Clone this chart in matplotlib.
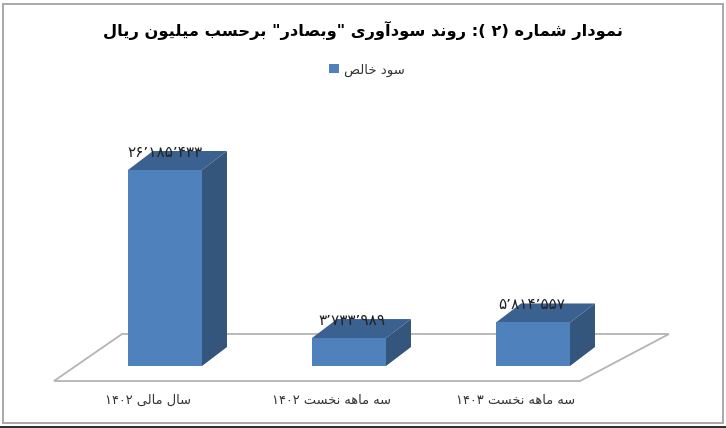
import matplotlib
matplotlib.use("Agg")
import matplotlib.pyplot as plt
from matplotlib.patches import Polygon, Rectangle
from matplotlib.transforms import Affine2D, ScaledTranslation

title_text = 'نمودار شماره (۲ ): روند سودآوری "وبصادر" برحسب میلیون ریال'
series_name = 'سود خالص'
categories = ['سال مالی ۱۴۰۲', 'سه ماهه نخست ۱۴۰۲', 'سه ماهه نخست ۱۴۰۳']
values = [26185433, 3733989, 5814557]
value_labels = ['۲۶٬۱۸۵٬۴۳۳', '۳٬۷۳۳٬۹۸۹', '۵٬۸۱۴٬۵۵۷']

# Matplotlib has no Arabic shaping: map letters to contextual forms
FORMS = {  # isolated, final, initial, medial
    'ا': '\uFE8D\uFE8E', 'آ': '\uFE81\uFE82', 'د': '\uFEA9\uFEAA', 'ر': '\uFEAD\uFEAE', 'و': '\uFEED\uFEEE',
    'ن': '\uFEE5\uFEE6\uFEE7\uFEE8', 'م': '\uFEE1\uFEE2\uFEE3\uFEE4', 'ش': '\uFEB5\uFEB6\uFEB7\uFEB8',
    'ه': '\uFEE9\uFEEA\uFEEB\uFEEC', 'س': '\uFEB1\uFEB2\uFEB3\uFEB4', 'ی': '\uFBFC\uFBFD\uFBFE\uFBFF',
    'ب': '\uFE8F\uFE90\uFE91\uFE92', 'ص': '\uFEB9\uFEBA\uFEBB\uFEBC', 'ح': '\uFEA1\uFEA2\uFEA3\uFEA4',
    'ل': '\uFEDD\uFEDE\uFEDF\uFEE0', 'خ': '\uFEA5\uFEA6\uFEA7\uFEA8', 'ت': '\uFE95\uFE96\uFE97\uFE98',
}
def shape(s):
    out = []
    for i, c in enumerate(s):
        f = FORMS.get(c)
        if not f:
            out.append(c)
            continue
        p = FORMS.get(s[i - 1]) if i else None
        n = FORMS.get(s[i + 1]) if i + 1 < len(s) else None
        prev_join = bool(p and len(p) == 4)
        next_join = bool(n and len(f) == 4)
        idx = (1 if prev_join else 0) if not next_join else (3 if prev_join else 2)
        out.append(f[idx])
    vis = ''.join(out)[::-1]
    # number runs stay left-to-right, brackets mirror
    res, run = [], []
    for c in vis:
        if c in '۰۱۲۳۴۵۶۷۸۹٬':
            run.append(c)
        else:
            res.extend(run[::-1]); run = []
            res.append({'(': ')', ')': '('}.get(c, c))
    res.extend(run[::-1])
    return ''.join(res)

W, H = 726, 428
fig = plt.figure(figsize=(W / 100, H / 100), dpi=100, facecolor='white')
px = Affine2D().scale(1 / W, -1 / H).translate(0, 1) + fig.transFigure

# plot area in image pixels
L, R, B, T = 73, 625, 366, 100
ax = fig.add_axes([L / W, 1 - B / H, (R - L) / W, (B - T) / H])
per_px = values[0] / 196.0
ax.set_xlim(-0.5, 2.5)
ax.set_ylim(0, (B - T) * per_px)
ax.patch.set_alpha(0)
for s in ax.spines.values():
    s.set_visible(False)

px_x = 3.0 / (R - L)
depth_x, depth_y = 25 * px_x, 19 * per_px
bw = 74 * px_x

# floor
fig.add_artist(Polygon([(54, 381), (580, 381), (669, 334), (122, 334)], closed=True, fc='white',
                       ec='#b4b4b4', lw=1.3, transform=px, zorder=0))

FRONT, SIDE, TOP = '#4f81bd', '#34557c', '#3a6190'
xs = list(range(len(values)))
ax.bar(xs, values, width=bw, color=FRONT, zorder=3, label=shape(series_name))
label_dx = [0, 3, -1]
for x, v, lab, dx in zip(xs, values, value_labels, label_dx):
    l, r = x - bw / 2, x + bw / 2
    ax.add_patch(Polygon([(r, 0), (r + depth_x, depth_y), (r + depth_x, v + depth_y), (r, v)], fc=SIDE, ec='none', zorder=2))
    ax.add_patch(Polygon([(l, v), (r, v), (r + depth_x, v + depth_y), (l + depth_x, v + depth_y)], fc=TOP, ec='none', zorder=2))
    ax.annotate(shape(lab), (x, v + depth_y), ha='center', va='center', fontsize=11, color='#222222', zorder=5,
                xytext=(dx * 0.72, -0.9), textcoords='offset points')

ax.set_yticks([])
ax.set_xticks(xs)
ax.set_xticklabels([shape(c) for c in categories], fontsize=9.4, color='#333333')
ax.tick_params(axis='x', length=0, pad=20)
shift = ScaledTranslation(-17 / 100, 0, fig.dpi_scale_trans)
for t in ax.get_xticklabels():
    t.set_transform(t.get_transform() + shift)

fig.text(363 / W, 1 - 30 / H, shape(title_text), ha='center', va='center', fontsize=11.7, fontweight='bold', color='black')
ax.legend(loc='center', bbox_to_anchor=(367 / W, 1 - 70 / H), bbox_transform=fig.transFigure, frameon=False,
          fontsize=9.5, handlelength=0.7, handleheight=0.7, handletextpad=0.4, labelcolor='#333333')

# picture frame
fig.add_artist(Rectangle((3, 4), 720, 419, fc='none', ec='#a8a8a8', lw=1.4, transform=px, zorder=-1))
fig.add_artist(Rectangle((0, 426), 726, 2, fc='#303030', ec='none', transform=px, zorder=-1))
fig.savefig('out.png', dpi=100)
